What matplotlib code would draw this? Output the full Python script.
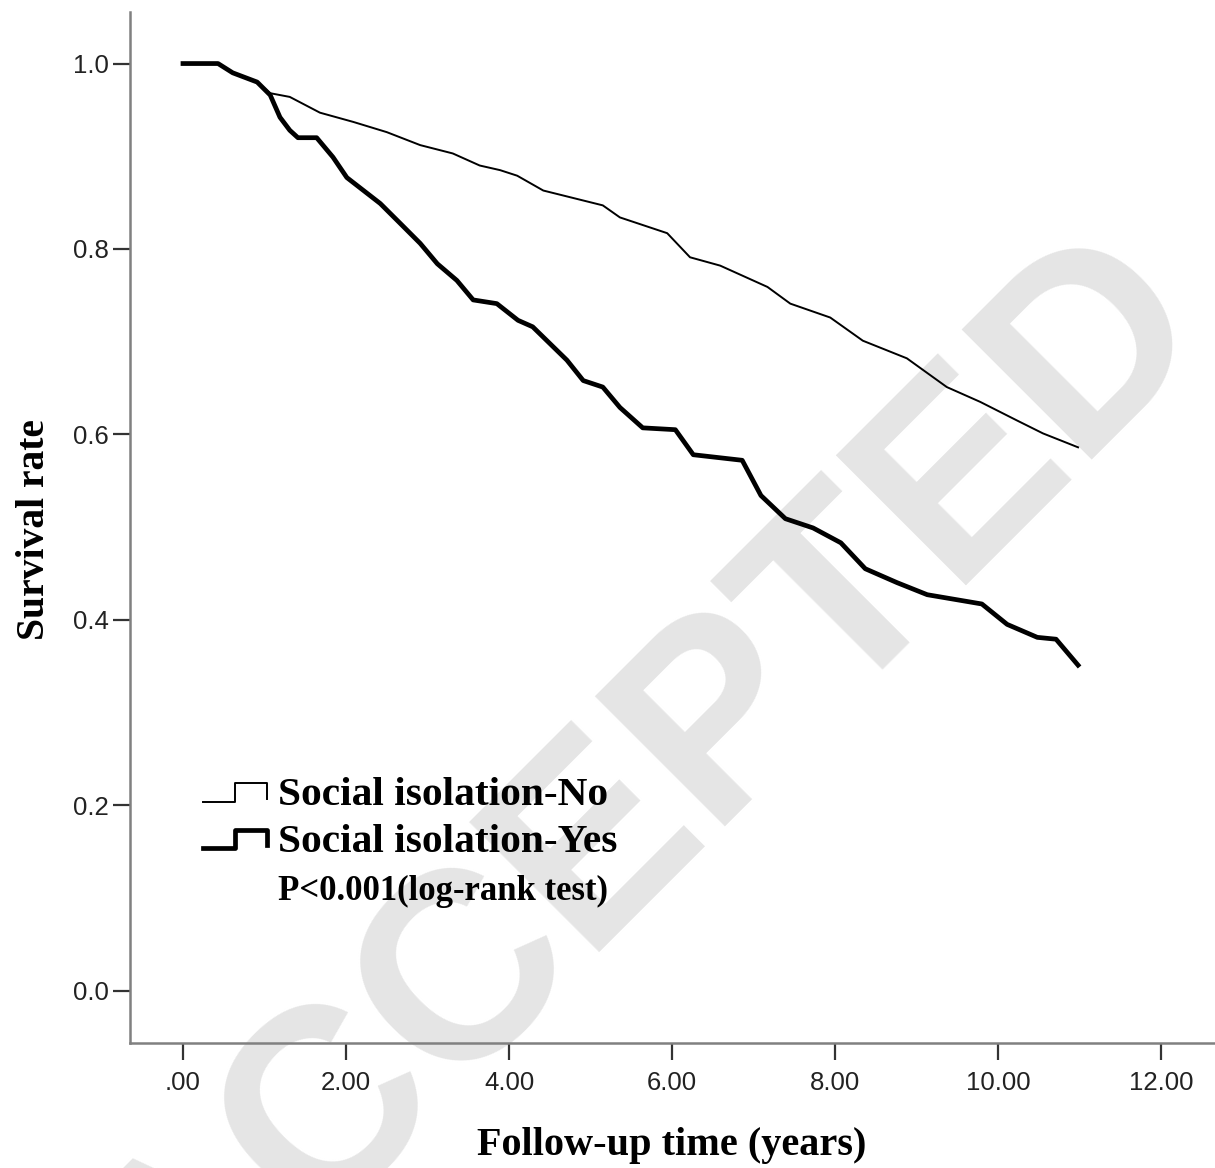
import matplotlib
matplotlib.use('Agg')
import matplotlib.pyplot as plt
from matplotlib.lines import Line2D

# Kaplan-Meier curves (years, survival)
t_no = [0, 0.43, 0.61, 0.91, 1.07, 1.31, 1.68, 2.09, 2.50, 2.91, 3.31, 3.64,
        3.89, 4.10, 4.42, 5.15, 5.36, 5.94, 6.22, 6.59, 7.17, 7.45, 7.94,
        8.34, 8.88, 9.37, 9.78, 10.23, 10.55, 10.98]
s_no = [1.0, 1.0, 0.990, 0.980, 0.968, 0.964, 0.947, 0.937, 0.926, 0.912,
        0.903, 0.890, 0.885, 0.879, 0.863, 0.847, 0.834, 0.817, 0.791, 0.782,
        0.759, 0.741, 0.726, 0.701, 0.682, 0.651, 0.635, 0.615, 0.601, 0.586]

t_yes = [0, 0.43, 0.61, 0.91, 1.07, 1.19, 1.31, 1.41, 1.64, 1.84, 2.01, 2.42,
         2.66, 2.91, 3.12, 3.36, 3.56, 3.85, 4.11, 4.29, 4.71, 4.91, 5.15,
         5.36, 5.64, 6.04, 6.26, 6.86, 7.09, 7.39, 7.73, 8.07, 8.37, 8.76,
         9.13, 9.80, 10.11, 10.48, 10.71, 10.98]
s_yes = [1.0, 1.0, 0.990, 0.980, 0.966, 0.942, 0.928, 0.920, 0.920, 0.899,
         0.877, 0.849, 0.828, 0.806, 0.784, 0.766, 0.745, 0.741, 0.723, 0.716,
         0.680, 0.658, 0.651, 0.629, 0.607, 0.605, 0.578, 0.572, 0.534, 0.509,
         0.499, 0.483, 0.455, 0.440, 0.427, 0.417, 0.395, 0.381, 0.379, 0.351]

x_ticks = [0, 2, 4, 6, 8, 10, 12]
x_ticklabels = ['.00', '2.00', '4.00', '6.00', '8.00', '10.00', '12.00']
y_ticks = [0.0, 0.2, 0.4, 0.6, 0.8, 1.0]
y_ticklabels = ['0.0', '0.2', '0.4', '0.6', '0.8', '1.0']

legend_labels = ['Social isolation-No', 'Social isolation-Yes']
p_text = 'P<0.001(log-rank test)'

W, H = 1215, 1168


def fx(px):
    return px / W


def fy(py):
    return 1 - py / H


serif = ['Liberation Serif', 'DejaVu Serif']
sans = ['Liberation Sans', 'DejaVu Sans']

fig = plt.figure(figsize=(W / 100, H / 100), dpi=100)
ax = fig.add_axes([fx(130), fy(1043), fx(1215) - fx(130), fy(12) - fy(1043)])

ax.plot(t_no, s_no, color='black', lw=1.4, zorder=3, solid_joinstyle='round')
ax.plot(t_yes, s_yes, color='black', lw=3.4, zorder=3, solid_joinstyle='round')

ax.set_xlim(-0.65, 12.66)
ax.set_ylim(-0.0566, 1.0556)

ax.set_xticks(x_ticks)
ax.set_xticklabels(x_ticklabels, family=sans, fontsize=18.5, color='#222222')
ax.set_yticks(y_ticks)
ax.set_yticklabels(y_ticklabels, family=sans, fontsize=18.5, color='#222222')
ax.tick_params(axis='x', length=12, width=1.6, color='#333333', pad=8)
ax.tick_params(axis='y', length=12, width=1.6, color='#333333', pad=3)

for side in ['top', 'right']:
    ax.spines[side].set_visible(False)
for side in ['left', 'bottom']:
    ax.spines[side].set_color('#808080')
    ax.spines[side].set_linewidth(1.8)

ax.set_xlabel('Follow-up time (years)', family=serif, fontsize=29,
              fontweight='bold', va='baseline')
ax.xaxis.set_label_coords(0.4995, -0.1086)
ax.set_ylabel('Survival rate', family=serif, fontsize=28.5,
              fontweight='bold', va='baseline')
ax.yaxis.set_label_coords(-0.0793, 0.4976)

# legend glyphs (SPSS-style step symbols) and texts
sym_x = [203, 235, 235, 267, 267]
sym_thin = [802, 802, 783, 783, 799]
sym_thick = [848, 848, 830, 830, 845]
fig.add_artist(Line2D([fx(v) for v in sym_x], [fy(v) for v in sym_thin],
                      color='black', lw=1.4, transform=fig.transFigure))
fig.add_artist(Line2D([fx(v) for v in sym_x], [fy(v) for v in sym_thick],
                      color='black', lw=3.4, transform=fig.transFigure))
fig.text(fx(278), fy(805), legend_labels[0], family=serif, fontsize=29.8,
         fontweight='bold', va='baseline', ha='left')
fig.text(fx(278), fy(852), legend_labels[1], family=serif, fontsize=29.8,
         fontweight='bold', va='baseline', ha='left')
fig.text(fx(278), fy(900), p_text, family=serif, fontsize=25,
         fontweight='bold', va='baseline', ha='left')

# watermark
ax.text(0.5325, 0.315, 'ACCEPTED', transform=fig.transFigure, family=sans,
        fontsize=192, fontweight='bold', color='#e5e5e5', rotation=45,
        rotation_mode='anchor', ha='center', va='center', zorder=0.5,
        clip_on=False)

fig.savefig('out.png', dpi=100, facecolor='white')
